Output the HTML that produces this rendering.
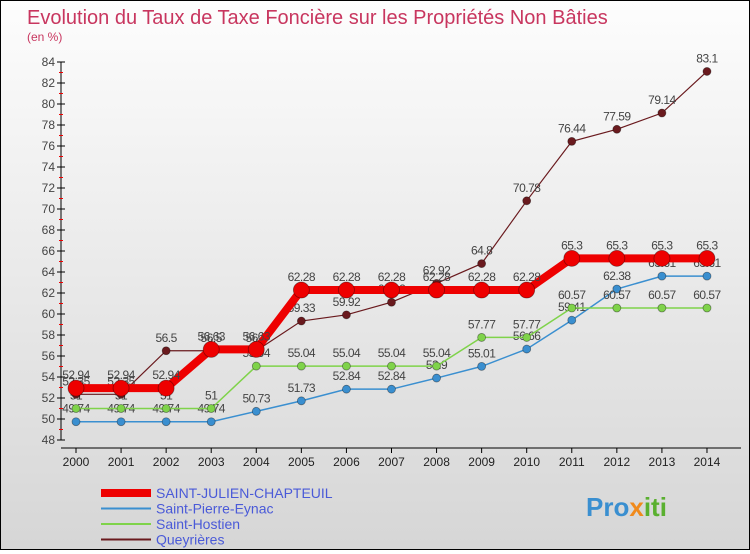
<!DOCTYPE html>
<html><head><meta charset="utf-8"><style>
body{margin:0;width:750px;height:550px;overflow:hidden;font-family:"Liberation Sans",sans-serif}
#wrap{position:relative;width:748px;height:548px;border:1px solid #000;background:linear-gradient(#fdfdfd,#d6d6d6)}
</style></head><body>
<div id="wrap">
<svg id="c" width="748" height="548" xmlns="http://www.w3.org/2000/svg">
<text x="26" y="23" font-size="20" fill="#c8365f">Evolution du Taux de Taxe Foncière sur les Propriétés Non Bâties</text>
<text x="26" y="40" font-size="12" fill="#c8365f">(en %)</text>
<text x="585" y="515" font-size="26" font-weight="bold" fill="#3a8fd0">Pro<tspan fill="#f08a1c">x</tspan><tspan fill="#5ab030">iti</tspan></text>
</svg></div>
<script>
const years=[2000,2001,2002,2003,2004,2005,2006,2007,2008,2009,2010,2011,2012,2013,2014];
const yTicks=[48,50,52,54,56,58,60,62,64,66,68,70,72,74,76,78,80,82,84];
const stJulien=[52.94,52.94,52.94,56.63,56.63,62.28,62.28,62.28,62.28,62.28,62.28,65.3,65.3,65.3,65.3];
const stPierre=[49.74,49.74,49.74,49.74,50.73,51.73,52.84,52.84,53.9,55.01,56.66,59.41,62.38,63.61,63.61];
const stHostien=[51,51,51,51,55.04,55.04,55.04,55.04,55.04,57.77,57.77,60.57,60.57,60.57,60.57];
const queyrieres=[52.35,52.35,56.5,56.5,56.5,59.33,59.92,61.12,62.92,64.8,70.78,76.44,77.59,79.14,83.1];
const svg=document.getElementById('c');const NS='http://www.w3.org/2000/svg';
const X=i=>75+i*45.07, Y=v=>439-(v-48)*10.5;
function el(t,a,p){const e=document.createElementNS(NS,t);for(const k in a)e.setAttribute(k,a[k]);(p||svg).appendChild(e);return e;}
const ax=el('line',{x1:60,y1:Y(48),x2:60,y2:Y(84),stroke:'#000'});


const xax=el('line',{x1:60,y1:Y(48)+8,x2:740,y2:Y(48)+8,stroke:'#000'});


yTicks.forEach(v=>{
 el('line',{x1:56,x2:64,y1:Y(v),y2:Y(v),stroke:'#000'});
 if(v<84)el('line',{x1:58,x2:62,y1:Y(v+1),y2:Y(v+1),stroke:'#e00'});
 const t=el('text',{x:54,y:Y(v)+4,'font-size':12,'text-anchor':'end',fill:'#444'});t.textContent=v;
 
 
});
years.forEach((y,i)=>{
 el('line',{x1:X(i),x2:X(i),y1:Y(48)+8,y2:Y(48)+13,stroke:'#000'});
 const t=el('text',{x:X(i),y:Y(48)+26,'font-size':12,'text-anchor':'middle',fill:'#222'});t.textContent=y;
 
 
});
function series(data,color,w,r,name){
 const g=el('g',{});
 
 
 el('polyline',{points:data.map((v,i)=>X(i)+','+Y(v)).join(' '),fill:'none',stroke:color,'stroke-width':w},g);
 data.forEach((v,i)=>{
  const c=el('circle',{cx:X(i),cy:Y(v),r:r,fill:color,stroke:'rgba(0,0,0,0.4)','stroke-width':0.8},g);
  
  
  const t=el('text',{x:X(i),y:Y(v)-9,'font-size':12,'text-anchor':'middle',fill:'#444','letter-spacing':'-0.5'},g);t.textContent=String(v).replace('.','.');
  
  
 });
}
series(stPierre,'#3a8fd0',1.5,4,'series-saint-pierre-eynac');
series(stHostien,'#7fd34a',1.5,4,'series-saint-hostien');
series(queyrieres,'#6a1a1e',1.2,4,'series-queyrieres');
series(stJulien,'#ee0000',8,8,'series-saint-julien-chapteuil');
const leg=[['SAINT-JULIEN-CHAPTEUIL','#ee0000',8],['Saint-Pierre-Eynac','#3a8fd0',2],['Saint-Hostien','#7fd34a',2],['Queyrières','#6a1a1e',2]];
leg.forEach((l,i)=>{
 const g=el('g',{});
 
 
 const y=492+i*15.5;
 el('line',{x1:100,x2:150,y1:y,y2:y,stroke:l[1],'stroke-width':l[2]},g);
 const t=el('text',{x:155,y:y+5,'font-size':14,fill:'#4a5ad8'},g);t.textContent=l[0];
});
</script></body></html>
